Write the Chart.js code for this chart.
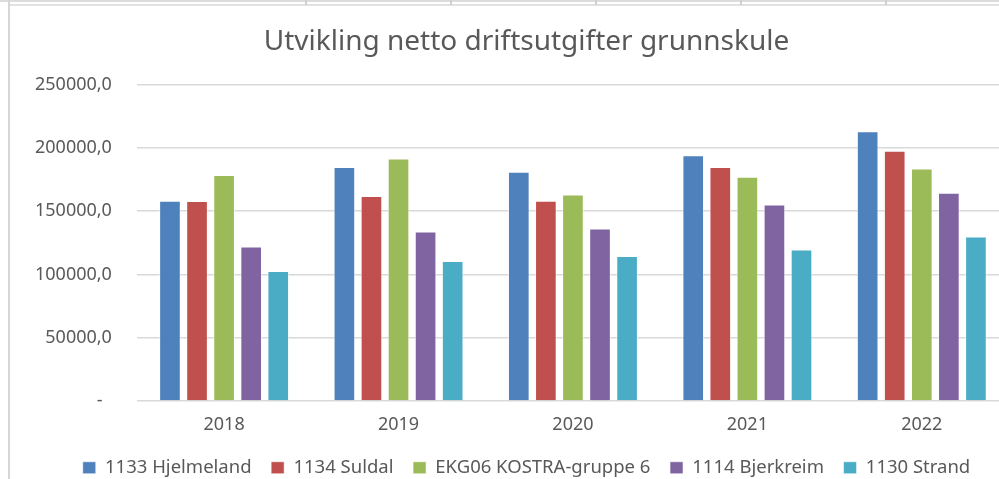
<!DOCTYPE html>
<html>
<head>
<meta charset="utf-8">
<script src="https://cdn.jsdelivr.net/npm/chart.js@4"></script>
<style>
  html, body { margin: 0; padding: 0; background: #fff; overflow: hidden; }
  body { width: 999px; height: 479px; position: relative; }
  .strip { position: absolute; left: 0; top: 0; width: 999px; height: 2px; background: #dcdcdc; }
  .strip2 { position: absolute; left: 8px; top: 4px; width: 991px; height: 2px; background: #e2e2e2; }
  .vline { position: absolute; left: 8px; top: 0; width: 2px; height: 479px; background: #d6d6d6; }
  .mark { position: absolute; top: 0; width: 2px; height: 5px; background: #cfcfcf; }
  #wrap { position: absolute; left: 10px; top: 0; width: 1033px; height: 487px; }
</style>
</head>
<body>
<div class="strip"></div>
<div class="strip2"></div>
<div class="vline"></div>
<div class="mark" style="left:305px"></div>
<div class="mark" style="left:450px"></div>
<div class="mark" style="left:595px"></div>
<div class="mark" style="left:740px"></div>
<div class="mark" style="left:885px"></div>
<div id="wrap"><canvas id="chart"></canvas></div>
<script>
const years = ['2018', '2019', '2020', '2021', '2022'];

const hjelmeland = [158200, 184900, 181200, 194200, 213200];
const suldal     = [158000, 161900, 158200, 184900, 197800];
const ekg06      = [178600, 191500, 163200, 177200, 183600];
const bjerkreim  = [122000, 133900, 136200, 155300, 164500];
const strand     = [102600, 110600, 114500, 119600, 129900];

const seriesNames = ['1133 Hjelmeland', '1134 Suldal', 'EKG06 KOSTRA-gruppe 6', '1114 Bjerkreim', '1130 Strand'];
const seriesColors = ['#4F81BD', '#C0504D', '#9BBB59', '#8064A2', '#4BACC6'];

const textColor = '#595959';
const fontFamily = "'Noto Sans', 'Open Sans', sans-serif";

function fmt(v) {
  if (v === 0) return '-  ';
  return String(v) + ',0';
}

const allSeries = [hjelmeland, suldal, ekg06, bjerkreim, strand];

new Chart(document.getElementById('chart'), {
  type: 'bar',
  data: {
    labels: years,
    datasets: allSeries.map((d, i) => ({
      label: seriesNames[i],
      data: d,
      backgroundColor: seriesColors[i],
      borderColor: 'rgba(255,255,255,0.55)',
      borderWidth: 1,
      barPercentage: 0.8,
      categoryPercentage: 0.776
    }))
  },
  options: {
    responsive: true,
    maintainAspectRatio: false,
    animation: false,
    layout: { padding: { left: 0, right: 0, top: 8, bottom: 0 } },
    plugins: {
      title: {
        display: true,
        text: 'Utvikling netto driftsutgifter grunnskule',
        color: textColor,
        font: { family: fontFamily, size: 28, weight: 'normal' },
        padding: { top: 17, bottom: 26 }
      },
      legend: {
        position: 'bottom',
        labels: {
          color: textColor,
          font: { family: fontFamily, size: 18.5 },
          boxWidth: 13,
          boxHeight: 12,
          padding: 10,
          generateLabels(chart) {
            const items = Chart.defaults.plugins.legend.labels.generateLabels(chart);
            // a little extra space between items, like the original
            items.forEach((it, i) => { if (i < items.length - 1) it.text += '  '; });
            return items;
          }
        }
      },
      tooltip: { enabled: false }
    },
    scales: {
      y: {
        min: 0,
        max: 250000,
        border: { display: false },
        grid: { color: '#d9d9d9', lineWidth: 1.5, drawTicks: false },
        ticks: {
          stepSize: 50000,
          color: textColor,
          font: { family: fontFamily, size: 18 },
          padding: 25,
          callback: v => fmt(v)
        }
      },
      // empty right axis, only keeps the plot edge past the window like the original
      yRight: {
        position: 'right',
        display: true,
        border: { display: false },
        grid: { display: false, drawTicks: false },
        ticks: { display: false },
        afterFit(scale) { scale.width = 34; }
      },
      x: {
        border: { display: false },
        grid: { display: false, drawTicks: false },
        ticks: {
          color: textColor,
          font: { family: fontFamily, size: 18 },
          padding: 13
        }
      }
    }
  }
});
</script>
</body>
</html>
